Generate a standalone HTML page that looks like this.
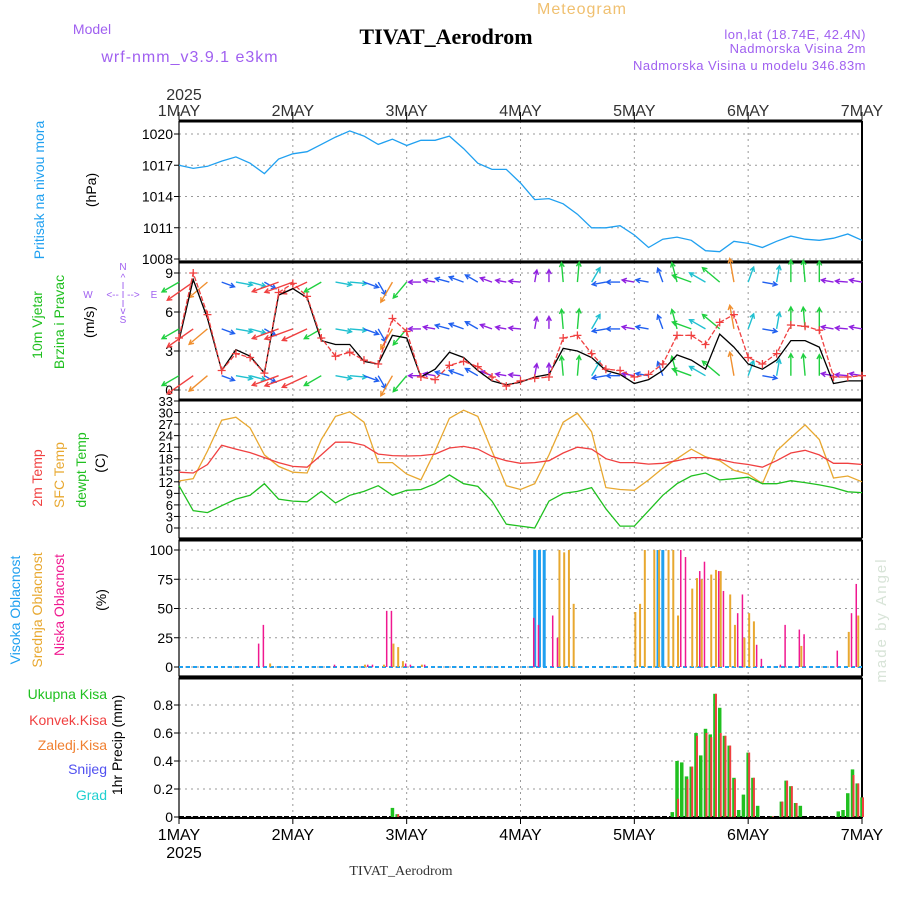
<!DOCTYPE html>
<html><head><meta charset="utf-8"><title>Meteogram TIVAT_Aerodrom</title>
<style>
html,body{margin:0;padding:0;background:#fff;}
svg{display:block;font-family:"Liberation Sans","DejaVu Sans",sans-serif;}
</style></head>
<body>
<svg id="chart" width="900" height="900" viewBox="0 0 900 900" xmlns="http://www.w3.org/2000/svg">
  <text x="582" y="14" fill="#f0c070" font-size="16" text-anchor="middle" letter-spacing="1">Meteogram</text>
  <text x="92" y="34" fill="#a060f0" font-size="14" text-anchor="middle">Model</text>
  <text x="190" y="62" fill="#a060f0" font-size="16" text-anchor="middle" letter-spacing="1">wrf-nmm_v3.9.1 e3km</text>
  <text x="446" y="44" fill="#000" font-size="22" font-weight="bold" font-family="Liberation Serif,serif" text-anchor="middle">TIVAT_Aerodrom</text>
  <text x="866" y="39" fill="#a060f0" font-size="13" text-anchor="end" letter-spacing="0.5">lon,lat (18.74E, 42.4N)</text>
  <text x="866" y="53" fill="#a060f0" font-size="13" text-anchor="end" letter-spacing="0.5">Nadmorska Visina 2m</text>
  <text x="866" y="70" fill="#a060f0" font-size="13" text-anchor="end" letter-spacing="0.5">Nadmorska Visina u modelu 346.83m</text>
  <text x="184" y="100" fill="#333" font-size="16" text-anchor="middle">2025</text>
  <text x="184" y="858" fill="#000" font-size="16" text-anchor="middle">2025</text>
  <text x="401" y="875" fill="#333" font-size="14" font-family="Liberation Serif,serif" text-anchor="middle">TIVAT_Aerodrom</text>
  <text transform="translate(886,620) rotate(-90)" fill="#d8e4d8" font-size="15" text-anchor="middle" letter-spacing="2">made by Angel</text>

  <text transform="translate(44,190) rotate(-90)" fill="#20a0f0" font-size="14" text-anchor="middle">Pritisak na nivou mora</text>
  <text transform="translate(96,190) rotate(-90)" fill="#000" font-size="14" text-anchor="middle">(hPa)</text>
  <text transform="translate(42,325) rotate(-90)" fill="#20c020" font-size="14" text-anchor="middle">10m Vjetar</text>
  <text transform="translate(64,322) rotate(-90)" fill="#20c020" font-size="14" text-anchor="middle">Brzina i Pravac</text>
  <text transform="translate(94,322) rotate(-90)" fill="#000" font-size="14" text-anchor="middle">(m/s)</text>
  <g fill="#a060f0" font-size="10" text-anchor="middle">
    <text x="123" y="270">N</text><text x="123" y="281">^</text><text x="123" y="289">I</text>
    <text x="88" y="298">W</text><text x="123" y="298">&lt;-- I --&gt;</text><text x="154" y="298">E</text>
    <text x="123" y="307">I</text><text x="123" y="314">v</text><text x="123" y="323">S</text>
  </g>
  <text transform="translate(42,478) rotate(-90)" fill="#f04040" font-size="14" text-anchor="middle">2m Temp</text>
  <text transform="translate(64,475) rotate(-90)" fill="#e8a830" font-size="14" text-anchor="middle">SFC Temp</text>
  <text transform="translate(86,470) rotate(-90)" fill="#20c020" font-size="14" text-anchor="middle">dewpt Temp</text>
  <text transform="translate(105,463) rotate(-90)" fill="#000" font-size="14" text-anchor="middle">(C)</text>
  <text transform="translate(20,610) rotate(-90)" fill="#20a0f0" font-size="14" text-anchor="middle">Visoka Oblacnost</text>
  <text transform="translate(42,610) rotate(-90)" fill="#e8a830" font-size="14" text-anchor="middle">Srednja Oblacnost</text>
  <text transform="translate(64,605) rotate(-90)" fill="#f01890" font-size="14" text-anchor="middle">Niska Oblacnost</text>
  <text transform="translate(106,600) rotate(-90)" fill="#000" font-size="14" text-anchor="middle">(%)</text>
  <text x="107" y="699" fill="#20c020" font-size="14" text-anchor="end">Ukupna Kisa</text>
  <text x="107" y="725" fill="#f04040" font-size="14" text-anchor="end">Konvek.Kisa</text>
  <text x="107" y="750" fill="#f08030" font-size="14" text-anchor="end">Zaledj.Kisa</text>
  <text x="107" y="774" fill="#5050f0" font-size="14" text-anchor="end">Snijeg</text>
  <text x="107" y="800" fill="#20d0d0" font-size="14" text-anchor="end">Grad</text>
  <text transform="translate(122,745) rotate(-90)" fill="#000" font-size="14" text-anchor="middle">1hr Precip (mm)</text>
  <g id="plot"></g>
</svg>
<script>
const days = ["1MAY","2MAY","3MAY","4MAY","5MAY","6MAY","7MAY"];
const hours3 = [0,3,6,9,12,15,18,21,24,27,30,33,36,39,42,45,48,51,54,57,60,63,66,69,72,75,78,81,84,87,90,93,96,99,102,105,108,111,114,117,120,123,126,129,132,135,138,141,144];
const pressure = [1017.0,1016.7,1016.9,1017.4,1017.8,1017.2,1016.2,1017.6,1018.1,1018.3,1019.0,1019.7,1020.3,1019.8,1019.0,1019.5,1018.9,1019.4,1019.4,1019.8,1018.6,1017.2,1016.6,1016.6,1015.3,1013.7,1013.8,1013.3,1012.3,1011.0,1011.0,1011.2,1010.3,1009.1,1009.9,1010.1,1009.8,1008.8,1008.7,1009.7,1009.5,1009.1,1009.7,1010.2,1009.9,1009.8,1010.0,1010.4,1009.8];
const gust = [4,9.0,5.8,1.5,2.8,2.5,1.3,7.5,8.2,7.2,4,2.6,2.9,2.3,2,5.5,4.5,1,0.8,1.9,2.2,1.8,1,0.3,0.7,0.9,1.0,4,4.2,2.8,1.6,1.5,1,1.2,2,4.2,4.2,3.5,5.2,5.8,2.5,2,2.8,5,4.9,4.6,1,1,1.1];
const wspd = [3.8,8.5,5.5,1.5,3.1,2.6,1.3,7.3,7.8,7.1,3.8,3.5,3.5,2.2,2,4.2,4,1,1.6,2.9,2.5,1.5,0.7,0.4,0.6,1,1.2,3.2,3.0,2.5,1.5,1.2,0.5,0.8,1.5,2.7,2.3,1.6,4.3,3.3,2,1.6,2.3,3.8,3.8,3.3,0.5,0.7,0.7];
const wdir = [150,145,140,20,10,15,30,160,160,155,150,10,5,20,60,120,130,180,190,195,200,210,200,190,185,280,270,265,275,300,170,180,190,190,250,255,200,210,220,260,290,10,280,270,265,270,190,185,190];
const t2m = [14.5,14.3,16.5,21.5,20.5,19.6,18.3,17,16,15.8,19,22.3,22.3,21.5,19.2,18.8,18.7,18.8,19.2,20.8,21.2,20.5,18.6,17.5,16.8,17,17.5,19.5,21,20.5,18,17,17,16.6,16.8,17.5,18.3,18.3,17.8,17,16.5,15.8,17.5,19.5,20.2,19,16.8,16.8,16.5];
const tsfc = [12.2,12.8,20,28,28.8,26,19,16,14.5,14.3,23,29,30.2,27.5,17,17,14,12.5,20,28.5,30.6,29,20,11,10,11.5,19,27.5,29.8,25,10.5,10,9.8,12.5,15.5,18,20.5,18.5,17.5,15,14,11.5,20,23.5,26.8,23,13,13.5,12];
const tdew = [11,4.5,4,5.8,7.5,8.5,11.5,7.5,7,6.8,9.5,6.5,8.5,9.5,11,8.5,9.8,10,11.5,13.8,11.5,10.8,7,1,0.5,0,7,9,9.5,10.5,5,0.5,0.5,4.5,8.5,11.5,13.5,14.3,12.5,12.8,13.2,11.5,11.5,12.3,11.8,11.2,10.5,9.4,9.2];
const highHours = [75,76,77,101,102];
const highVals  = [100,100,100,100,100];
const midHours = [19,39,43,45,46,47,51,80,81,82,83,96,97,98,100,101,103,104,105,108,109,110,112,113,114,116,117,119,120,121,131,141,143];
const midVals  = [3,2,2,20,17,5,2,100,98,100,54,47,54,100,100,100,100,100,44,67,76,75,79,83,82,62,36,25,46,39,18,30,44];
const lowHours = [17,18,33,40,41,44,45,48,49,52,75,76,79,80,106,107,110,111,114,115,118,119,122,123,127,128,131,132,139,142,143];
const lowVals  = [20,36,2,2,2,48,48,3,2,2,42,36,44,25,100,94,82,90,82,65,46,62,19,7,2,36,32,28,14,46,71];
const precHours = [45,46,104,105,106,107,108,109,110,111,112,113,114,115,116,117,118,119,120,121,122,125,127,128,129,130,131,139,140,141,142,143,144];
const precTotal = [0.065,0.02,0.035,0.40,0.39,0.29,0.36,0.60,0.44,0.63,0.59,0.88,0.78,0.58,0.51,0.28,0.05,0.16,0.46,0.28,0.08,0.005,0.11,0.26,0.22,0.10,0.08,0.04,0.05,0.17,0.34,0.24,0.14];
const precConv  = [0.0,0.02,0.0,0.13,0.0,0.27,0.36,0.58,0.0,0.60,0.57,0.88,0.60,0.58,0.51,0.27,0.0,0.0,0.46,0.28,0.0,0.005,0.11,0.26,0.22,0.10,0.0,0.0,0.0,0.0,0.30,0.24,0.14];
const pTicks = [1008,1011,1014,1017,1020];
const wTicks = [0,3,6,9];
const tTicks = [0,3,6,9,12,15,18,21,24,27,30,33];
const cTicks = [0,25,50,75,100];
const rTicks = [0,0.2,0.4,0.6,0.8];

const NS="http://www.w3.org/2000/svg";
const X0=179, X1=862;
const xh = h => X0 + h*(X1-X0)/144;
const lin = (v0,y0,v1,y1) => v => y0 + (v-v0)*(y1-y0)/(v1-v0);
const yP = lin(1008,259,1020,134);
const yW = lin(0,390,9,273);
const yT = lin(0,528,33,401);
const yC = lin(0,667,100,550);
const yR = lin(0,817,0.8,705);
const plot = document.getElementById('plot');
function mk(tag, attrs, parent){const e=document.createElementNS(NS,tag);for(const k in attrs)e.setAttribute(k,attrs[k]);(parent||plot).appendChild(e);return e;}

function panel(name, top, bot, ticks, yf, fmt, fs){
  const g=mk('g',{});
  
  
  for(let d=1; d<6; d++){
    const gl=mk('line',{x1:xh(d*24),x2:xh(d*24),y1:top,y2:bot,stroke:'#999','stroke-dasharray':'2,4','stroke-width':1},g);
    
    
  }
  ticks.forEach(t=>{
    const y=yf(t);
    const gl=mk('line',{x1:X0,x2:X1,y1:y,y2:y,stroke:'#999','stroke-dasharray':'2,4','stroke-width':1},g);
    
    
    mk('line',{x1:X0-5,x2:X0,y1:y,y2:y,stroke:'#000'},g);
    const tx=mk('text',{x:X0-6,y:y+5,'text-anchor':'end','font-size':fs||14,fill:'#000'},g);
    tx.textContent=fmt?fmt(t):t;
    
    
  });
  const fr=mk('rect',{x:X0,y:top,width:X1-X0,height:bot-top,fill:'none',stroke:'#000','stroke-width':1.2},g);
  
  
  mk('line',{x1:X0,x2:X1,y1:top,y2:top,stroke:'#000','stroke-width':3},g);
  mk('line',{x1:X1,x2:X1,y1:top,y2:bot,stroke:'#000','stroke-width':2},g);
  return g;
}
const gp=panel('pressure',121,261,pTicks,yP);
const gw=panel('wind',262,400,wTicks,yW);
const gt=panel('temperature',400,538,tTicks,yT,null,13);
const gc=panel('cloud',540,676,cTicks,yC);
const gr=panel('precip',678,818,rTicks,yR,t=>t===0?'0':t.toFixed(1));
mk('line',{x1:X0,x2:X1,y1:818,y2:818,stroke:'#000','stroke-width':2});

days.forEach((d,i)=>{
  const x=xh(i*24);
  ['top','bottom'].forEach(pos=>{
    mk('line',{x1:x,x2:x,y1:pos==='top'?112:818,y2:pos==='top'?120:824,stroke:'#000'});
    const t=mk('text',{x:x,y:pos==='top'?116:840,'text-anchor':'middle','font-size':16,fill:pos==='top'?'#333':'#000'});
    t.textContent=d;
    
    
  });
});

function line(arr, yf, color, name, parent, w){
  const d=arr.map((v,i)=>(i?'L':'M')+xh(hours3[i]).toFixed(1)+','+yf(v).toFixed(1)).join('');
  const p=mk('path',{d:d,fill:'none',stroke:color,'stroke-width':w||1.3},parent);
  
  
  return p;
}
line(pressure,yP,'#20a0f0','pressure-line',gp);

function spdColor(s){
  if(s>=7) return '#f04040';
  if(s>=5.5) return '#f09030';
  if(s>=4) return '#20d040';
  if(s>=2.5) return '#20c0d0';
  if(s>=1.2) return '#2060f0';
  return '#9020e0';
}
[8.3,4.7,1.1].forEach((lvl,ri)=>{
  const rg=mk('g',{},gw);
  
  
  hours3.forEach((h,i)=>{
    const a=wdir[i]*Math.PI/180, L=10+gust[i]*2.4;
    const x1=xh(h), y1=yW(lvl), x2=x1+Math.cos(a)*L, y2=y1+Math.sin(a)*L;
    const c=spdColor(gust[i]);
    const ar=mk('path',{d:`M${x1},${y1}L${x2},${y2}M${x2-Math.cos(a-0.5)*5},${y2-Math.sin(a-0.5)*5}L${x2},${y2}L${x2-Math.cos(a+0.5)*5},${y2-Math.sin(a+0.5)*5}`,stroke:c,'stroke-width':1.4,fill:'none'},rg);
    
    
  });
});
line(wspd,yW,'#000','wind-speed-line',gw);
line(gust,yW,'#f04040','wind-gust-line',gw).setAttribute('stroke-dasharray','5,2');
hours3.forEach((h,i)=>{
  const x=xh(h), y=yW(gust[i]);
  const m=mk('path',{d:`M${x-4},${y}H${x+4}M${x},${y-4}V${y+4}`,stroke:'#f04040','stroke-width':1.3},gw);
  
  
});

line(tsfc,yT,'#e8a830','sfc-temp-line',gt);
line(t2m,yT,'#f04040','temp2m-line',gt);
line(tdew,yT,'#20c020','dewpoint-line',gt);

const base=mk('line',{x1:X0,x2:X1,y1:yC(0),y2:yC(0),stroke:'#20a0f0','stroke-width':2,'stroke-dasharray':'4,3'},gc);


function bars(hrs, vals, yf, color, w, off, name, parent){
  hrs.forEach((h,i)=>{
    const x=xh(h)+off, y=yf(vals[i]), y0=yf(0);
    const r=mk('rect',{x:x-w/2,y:Math.min(y,y0),width:w,height:Math.abs(y0-y),fill:color},parent);
    
    
  });
}
bars(highHours,highVals,yC,'#20a0f0',3,0,'high-cloud-bar',gc);
bars(midHours,midVals,yC,'#e8a830',2,1,'mid-cloud-bar',gc);
bars(lowHours,lowVals,yC,'#f01890',1.5,-1,'low-cloud-bar',gc);

const pb=mk('line',{x1:X0,x2:X1,y1:yR(0),y2:yR(0),stroke:'#000','stroke-width':2,'stroke-dasharray':'5,2'},gr);


bars(precHours,precTotal,yR,'#20c020',3.5,0,'total-precip-bar',gr);
bars(precHours,precConv,yR,'#f04040',2,1,'convective-precip-bar',gr);
</script>
</body></html>
